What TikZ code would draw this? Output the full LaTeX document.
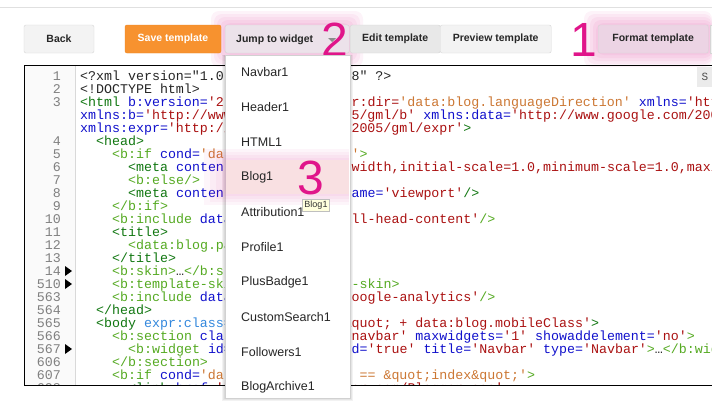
\documentclass[tikz,border=0pt]{standalone}
\usepackage{fontspec}
\setmainfont{Liberation Sans}
\setmonofont{Liberation Mono}
\definecolor{dg}{HTML}{117711}
\definecolor{lg}{HTML}{55AA22}
\definecolor{bl}{HTML}{1111CC}
\definecolor{rd}{HTML}{AA1111}
\definecolor{og}{HTML}{CC7733}
\definecolor{lb}{HTML}{3388DD}
\definecolor{pk}{HTML}{E0158A}
\definecolor{btn}{HTML}{F3F3F3}
\definecolor{btnb}{HTML}{D6D6D6}
\definecolor{orf}{HTML}{F7922F}
\definecolor{ord}{HTML}{EE8420}
\definecolor{jmp}{RGB}{236,226,234}
\definecolor{fmt}{RGB}{236,212,228}
\definecolor{hl}{RGB}{249,224,226}
\definecolor{tipc}{RGB}{255,255,221}
\def\zg#1{\textcolor{dg}{#1}}
\def\zl#1{\textcolor{lg}{#1}}
\def\zb#1{\textcolor{bl}{#1}}
\def\zr#1{\textcolor{rd}{#1}}
\def\zo#1{\textcolor{og}{#1}}
\def\zc#1{\textcolor{lb}{#1}}
\tikzset{
 button/.style={draw=btnb,fill=btn,rounded corners=2pt,minimum height=28pt,inner sep=0pt,font=\bfseries\fontsize{10.5}{12}\selectfont,text=black!85},
 code/.style={anchor=base west,inner sep=0pt,font=\ttfamily\fontsize{13.3}{14}\selectfont,text=black!85},
 lnum/.style={anchor=base east,inner sep=0pt,font=\ttfamily\fontsize{13.3}{14}\selectfont,text=black!50},
 item/.style={anchor=west,inner sep=0pt,font=\fontsize{12.5}{14}\selectfont,text=black!85},
 bignum/.style={inner sep=0pt,font=\fontsize{48}{50}\selectfont,text=pk},
 glow/.style={fill=pk,opacity=0.05,rounded corners=8pt}
}
\begin{document}
\begin{tikzpicture}[x=1pt,y=-1pt]
\useasboundingbox (0,0) rectangle (712,407);
\fill[white] (0,0) rectangle (712,407);
\draw[black!12] (0,7) -- (712,7);
% glows
\foreach \d in {2,5,8,11,14}{
 \fill[glow] (225-\d,25-\d) rectangle (349+\d,53+\d);
 \fill[glow] (598-\d,25-\d) rectangle (712,53+\d);
}
% buttons
\node[button,minimum width=70pt] (back) at (59,39) {Back};
\node[button,minimum width=96pt,fill=orf,draw=ord,text=white] (save) at (173,39) {Save template};
\node[button,minimum width=124pt,fill=jmp,anchor=west] (jump) at (225,39) {};
\node[anchor=west,inner sep=0pt,font=\bfseries\fontsize{10.5}{12}\selectfont,text=black!85] (jumpt) at (236,40) {Jump to widget};
\fill[black!45] (328,38) -- (336,38) -- (332,42) -- cycle;
\node[button,minimum width=90pt,fill=black!9,anchor=west] (edit) at (350,39) {Edit template};
\node[button,minimum width=111pt,anchor=west] (prev) at (440,39) {Preview template};
\node[button,minimum width=110pt,fill=fmt,anchor=west] (fmt) at (598,39) {Format template};
\draw[btnb,fill=btn] (710,25) rectangle (714,53);
\node[bignum] (n1) at (584,40) {1};
\node[bignum] (n2) at (335,40) {2};
% code area
\fill[black!2] (24,65) rectangle (75,385);
\draw[black!15] (75,65) -- (75,385);
\begin{scope}
\clip (76,66) rectangle (696,385);
\node[code] (c1) at (80,80) {<?xml version="1.0" encoding="UTF-8" ?>};
\end{scope}
\begin{scope}
\clip (76,66) rectangle (712,385);
\node[code] (c2) at (80,93) {<!DOCTYPE html>};
\node[code] (c3) at (80,106) {\zg{<html} \zb{b:version=}\zr{'2'} \zb{class=}\zr{'v2'} \zr{expr:dir=}\zo{'data:blog.languageDirection'} \zb{xmlns=}\zr{'http://www.w3.org/1999/xhtml'}};
\node[code] (c3b) at (80,119) {\zb{xmlns:b=}\zr{'http://www.google.com/2005/gml/b'} \zb{xmlns:data=}\zr{'http://www.google.com/2005/gml/data'}};
\node[code] (c3c) at (80,132) {\zb{xmlns:expr=}\zr{'http://www.google.com/2005/gml/expr'}\zg{>}};
\node[code] (c4) at (96,145) {\zg{<head>}};
\node[code] (c5) at (112,158) {\zl{<b:if} \zb{cond=}\zo{'data:blog.isMobile'}\zl{>}};
\node[code] (c6) at (128,171) {\zg{<meta} \zb{content=}\zr{'width=device-width,initial-scale=1.0,minimum-scale=1.0,maximum-scale=1.0'} \zb{name=}\zr{'viewport'}\zg{/>}};
\node[code] (c7) at (128,184) {\zl{<b:else/>}};
\node[code] (c8) at (128,197) {\zg{<meta} \zb{content=}\zr{'width=1100'} \zb{name=}\zr{'viewport'}\zg{/>}};
\node[code] (c9) at (112,210) {\zl{</b:if>}};
\node[code] (c10) at (112,223) {\zl{<b:include} \zb{data=}\zr{'blog'} \zb{name=}\zr{'all-head-content'}\zl{/>}};
\node[code] (c11) at (112,236) {\zg{<title>}};
\node[code] (c12) at (128,249) {\zl{<data:blog.pageTitle/>}};
\node[code] (c13) at (112,262) {\zg{</title>}};
\node[code] (c14) at (112,275) {\zl{<b:skin>}…\zl{</b:skin>}};
\node[code] (c510) at (112,288) {\zl{<b:template-skin>}…\zl{</b:template-skin>}};
\node[code] (c563) at (112,301) {\zl{<b:include} \zb{data=}\zr{'blog'} \zb{name=}\zr{'google-analytics'}\zl{/>}};
\node[code] (c564) at (96,314) {\zg{</head>}};
\node[code] (c565) at (96,327) {\zg{<body} \zc{expr:class=}\zr{'\&quot;loading\&quot; + data:blog.mobileClass'}\zg{>}};
\node[code] (c566) at (112,340) {\zl{<b:section} \zb{class=}\zr{'navbar'} \zb{id=}\zr{'navbar'} \zb{maxwidgets=}\zr{'1'} \zb{showaddelement=}\zr{'no'}\zl{>}};
\node[code] (c567) at (128,353) {\zl{<b:widget} \zb{id=}\zr{'Navbar1'} \zb{locked=}\zr{'true'} \zb{title=}\zr{'Navbar'} \zb{type=}\zr{'Navbar'}\zl{>}…\zl{</b:widget>}};
\node[code] (c606) at (112,366) {\zl{</b:section>}};
\node[code] (c607) at (112,379) {\zl{<b:if} \zb{cond=}\zo{'data:blog.pageType == \&quot;index\&quot;'}\zl{>}};
\node[code] (c608) at (128,392) {\zg{<link} \zb{href=}\zr{'http://www.blogger.com/Blogger.css'}};
\end{scope}
\fill[black!8] (697,67) rectangle (712,87);
\node[font=\ttfamily\fontsize{11}{12}\selectfont,text=black!70] (sbtn) at (705,77) {S};
\foreach \n/\y in {1/80,2/93,3/106,4/145,5/158,6/171,7/184,8/197,9/210,10/223,11/236,12/249,13/262,14/275,510/288,563/301,564/314,565/327,566/340,567/353,606/366,607/379}
 \node[lnum] (l\n) at (61,\y) {\n};
\begin{scope}\clip (24,65) rectangle (75,385);
\node[lnum] (l608) at (61,392) {608};\end{scope}
\foreach \y in {271,284,349}
 \fill[black] (65,\y-5) -- (72,\y) -- (65,\y+5) -- cycle;
\draw[black] (24,65) -- (712,65) (24,65) -- (24,385) -- (712,385);
% menu shadow and menu
\foreach \d in {1,2,3}
 \fill[black,opacity=0.05] (225-\d,55) rectangle (350+\d,398+\d);
\draw[black!18,fill=white] (225,55) rectangle (350,398);
\foreach \d in {4,10,16,22}
 \fill[pk,opacity=0.04] (226-\d,160-\d/2) rectangle (349,194+\d/2);
\fill[hl] (226,160) rectangle (349,194);
\foreach \t/\y in {Navbar1/72,Header1/107,HTML1/142,Blog1/177,Attribution1/212,Profile1/247,PlusBadge1/282,CustomSearch1/317,Followers1/352,BlogArchive1/387}
 \node[item] (m\t) at (241,\y) {\t};
\node[bignum] (n3) at (311,178) {3};
\node[draw=black!25,fill=tipc,inner sep=2pt,font=\fontsize{9}{10}\selectfont,text=black!80] (tip) at (316,205) {Blog1};
\end{tikzpicture}
\end{document}
